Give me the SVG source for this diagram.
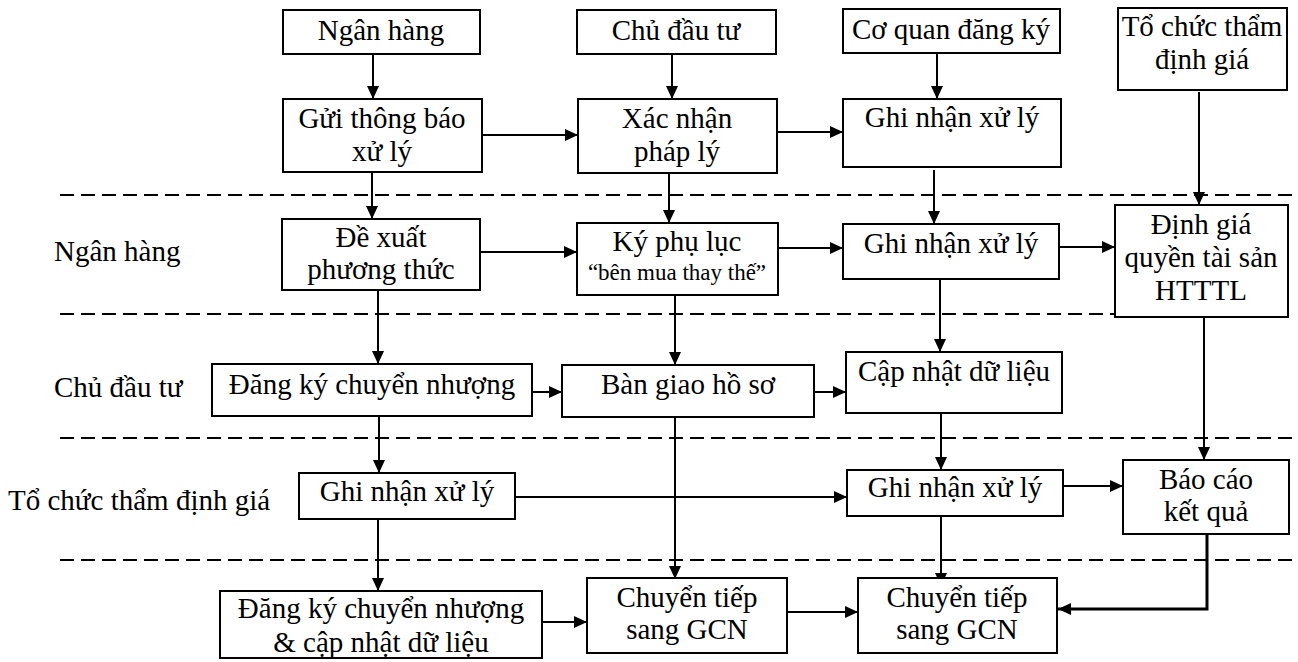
<svg xmlns="http://www.w3.org/2000/svg" width="1298" height="662" viewBox="0 0 1298 662">
<defs>
<marker id="ah" markerUnits="userSpaceOnUse" markerWidth="14" markerHeight="12" refX="13" refY="6" orient="auto">
<path d="M0,0 L13,6 L0,12 z" fill="#000"/>
</marker>
<style>
.box{fill:#fff;stroke:#000;stroke-width:2}
.t{text-anchor:middle}
.c{fill:none;stroke:#000;stroke-width:2}
.d{fill:none;stroke:#000;stroke-width:2;stroke-dasharray:14 7}
</style>
</defs>
<rect width="1298" height="662" fill="#fff"/>
<g id="lanes" font-family="Liberation Serif, Times New Roman, serif" font-size="29">
<line class="d" x1="60" y1="195" x2="1298" y2="195"/>
<line class="d" x1="60" y1="314" x2="1115" y2="314"/>
<line class="d" x1="60" y1="438" x2="1298" y2="438"/>
<line class="d" x1="60" y1="560" x2="1298" y2="560"/>
<text x="54" y="261">Ngân hàng</text>
<text x="54" y="397">Chủ đầu tư</text>
<text x="8" y="510">Tổ chức thẩm định giá</text>
</g>
<g id="connectors">
<line class="c" x1="373" y1="54" x2="373" y2="99" marker-end="url(#ah)"/>
<line class="c" x1="672" y1="54" x2="672" y2="99" marker-end="url(#ah)"/>
<line class="c" x1="937" y1="53" x2="937" y2="99" marker-end="url(#ah)"/>
<line class="c" x1="1199" y1="92" x2="1199" y2="205" marker-end="url(#ah)"/>
<line class="c" x1="482" y1="135" x2="578" y2="135" marker-end="url(#ah)"/>
<line class="c" x1="777" y1="132" x2="843" y2="132" marker-end="url(#ah)"/>
<line class="c" x1="372" y1="172" x2="372" y2="219" marker-end="url(#ah)"/>
<line class="c" x1="669" y1="173" x2="669" y2="223" marker-end="url(#ah)"/>
<line class="c" x1="934" y1="170" x2="934" y2="224" marker-end="url(#ah)"/>
<line class="c" x1="480" y1="252" x2="577" y2="252" marker-end="url(#ah)"/>
<line class="c" x1="778" y1="248" x2="843" y2="248" marker-end="url(#ah)"/>
<line class="c" x1="1059" y1="247" x2="1115" y2="247" marker-end="url(#ah)"/>
<line class="c" x1="378" y1="290" x2="378" y2="364" marker-end="url(#ah)"/>
<line class="c" x1="675" y1="295" x2="675" y2="365" marker-end="url(#ah)"/>
<line class="c" x1="940" y1="279" x2="940" y2="352" marker-end="url(#ah)"/>
<line class="c" x1="1204" y1="317" x2="1204" y2="460" marker-end="url(#ah)"/>
<line class="c" x1="533" y1="392" x2="562" y2="392" marker-end="url(#ah)"/>
<line class="c" x1="815" y1="392" x2="846" y2="392" marker-end="url(#ah)"/>
<line class="c" x1="379" y1="416" x2="379" y2="473" marker-end="url(#ah)"/>
<line class="c" x1="675" y1="417" x2="675" y2="579" marker-end="url(#ah)"/>
<line class="c" x1="941" y1="413" x2="941" y2="470" marker-end="url(#ah)"/>
<line class="c" x1="515" y1="497" x2="847" y2="497" marker-end="url(#ah)"/>
<line class="c" x1="1063" y1="486" x2="1123" y2="486" marker-end="url(#ah)"/>
<line class="c" x1="378" y1="519" x2="378" y2="591" marker-end="url(#ah)"/>
<line class="c" x1="941" y1="516" x2="941" y2="586" marker-end="url(#ah)"/>
<polyline fill="none" stroke="#000" stroke-width="3" points="1207,534 1207,609 1058,609" marker-end="url(#ah)"/>
<line class="c" x1="542" y1="622" x2="587" y2="622" marker-end="url(#ah)"/>
<line class="c" x1="787" y1="612" x2="858" y2="612" marker-end="url(#ah)"/>
</g>
<g id="nodes" font-family="Liberation Serif, Times New Roman, serif" font-size="29">
<g id="n_top_bank"><rect class="box" x="283" y="10" width="197" height="44"/><text class="t" x="381" y="40">Ngân hàng</text></g>
<g id="n_top_cdt"><rect class="box" x="577" y="10" width="199" height="44"/><text class="t" x="676" y="40">Chủ đầu tư</text></g>
<g id="n_top_cq"><rect class="box" x="843" y="9" width="217" height="44"/><text class="t" x="951" y="39">Cơ quan đăng ký</text></g>
<g id="n_top_tc"><rect class="box" x="1118" y="8" width="169" height="82"/><text class="t" x="1202" y="36">Tổ chức thẩm</text><text class="t" x="1202" y="69">định giá</text></g>
<g id="n_gui"><rect class="box" x="283" y="99" width="199" height="73"/><text class="t" x="382" y="128">Gửi thông báo</text><text class="t" x="382" y="161">xử lý</text></g>
<g id="n_xac"><rect class="box" x="578" y="99" width="199" height="74"/><text class="t" x="677" y="128">Xác nhận</text><text class="t" x="677" y="161">pháp lý</text></g>
<g id="n_ghi1"><rect class="box" x="843" y="99" width="218" height="68"/><text class="t" x="952" y="127">Ghi nhận xử lý</text></g>
<g id="n_dexuat"><rect class="box" x="282" y="219" width="198" height="71"/><text class="t" x="381" y="247">Đề xuất</text><text class="t" x="381" y="279">phương thức</text></g>
<g id="n_ky"><rect class="box" x="577" y="223" width="201" height="72"/><text class="t" x="677" y="251">Ký phụ lục</text><text class="t" x="677" y="280" font-size="23">“bên mua thay thế”</text></g>
<g id="n_ghi2"><rect class="box" x="843" y="224" width="216" height="55"/><text class="t" x="951" y="253">Ghi nhận xử lý</text></g>
<g id="n_dinhgia"><rect class="box" x="1115" y="205" width="173" height="112"/><text class="t" x="1201" y="234">Định giá</text><text class="t" x="1201" y="267">quyền tài sản</text><text class="t" x="1201" y="300">HTTTL</text></g>
<g id="n_dangky"><rect class="box" x="212" y="364" width="320" height="52"/><text class="t" x="372" y="394">Đăng ký chuyển nhượng</text></g>
<g id="n_bangiao"><rect class="box" x="562" y="365" width="252" height="52"/><text class="t" x="688" y="394">Bàn giao hồ sơ</text></g>
<g id="n_capnhat"><rect class="box" x="846" y="352" width="216" height="61"/><text class="t" x="954" y="381">Cập nhật dữ liệu</text></g>
<g id="n_ghi3"><rect class="box" x="299" y="473" width="216" height="46"/><text class="t" x="407" y="501">Ghi nhận xử lý</text></g>
<g id="n_ghi4"><rect class="box" x="847" y="470" width="216" height="46"/><text class="t" x="955" y="497">Ghi nhận xử lý</text></g>
<g id="n_baocao"><rect class="box" x="1123" y="460" width="166" height="74"/><text class="t" x="1206" y="489">Báo cáo</text><text class="t" x="1206" y="521">kết quả</text></g>
<g id="n_dangky2"><rect class="box" x="220" y="591" width="322" height="67"/><text class="t" x="381" y="618">Đăng ký chuyển nhượng</text><text class="t" x="381" y="652">&amp; cập nhật dữ liệu</text></g>
<g id="n_ct1"><rect class="box" x="587" y="578" width="200" height="75"/><text class="t" x="687" y="607">Chuyển tiếp</text><text class="t" x="687" y="639">sang GCN</text></g>
<g id="n_ct2"><rect class="box" x="858" y="578" width="199" height="75"/><text class="t" x="957" y="607">Chuyển tiếp</text><text class="t" x="957" y="639">sang GCN</text></g>
</g>
</svg>
